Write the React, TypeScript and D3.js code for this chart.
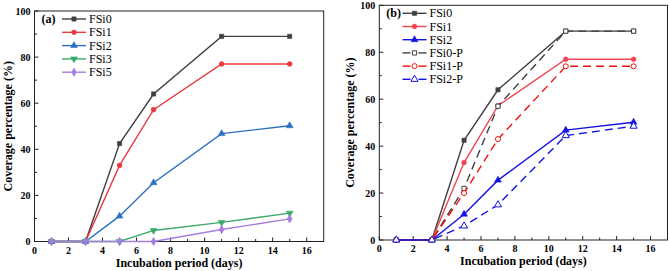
import React from "react";
import * as d3 from "d3";

// ---- data ----
const daysA = [1, 3, 5, 7, 11, 15];
const fsi0 = [0, 0, 42.5, 64, 89, 89];
const fsi1 = [0, 0, 33, 57.2, 77, 77];
const fsi2 = [0, 0, 11, 25.5, 46.8, 50.2];
const fsi3 = [0, 0, 0, 4.8, 8.3, 12.3];
const fsi5 = [0, 0, 0, 0, 5.2, 9.8];

const daysB = [1, 3.1, 5, 7, 11, 15];
const fsi0P = [0, 0, 22, 57, 89, 89];
const fsi1P = [0, 0, 20, 43, 74, 74];
const fsi2P = [0, 0, 6, 15, 44.5, 48.5];

const xTicks = [0, 2, 4, 6, 8, 10, 12, 14, 16];
const yTicks = [0, 20, 40, 60, 80, 100];

type Series = {
  name: string;
  x: number[];
  y: number[];
  color: string;
  symbol: d3.SymbolType;
  size: number;
  open?: boolean;
  dashed?: boolean;
};

const seriesA: Series[] = [
  { name: "FSi0", x: daysA, y: fsi0, color: "#404040", symbol: d3.symbolSquare, size: 18 },
  { name: "FSi1", x: daysA, y: fsi1, color: "#e8383f", symbol: d3.symbolCircle, size: 18 },
  { name: "FSi2", x: daysA, y: fsi2, color: "#2b70c2", symbol: d3.symbolTriangle, size: 20 },
  { name: "FSi3", x: daysA, y: fsi3, color: "#3aaa6a", symbol: d3.symbolTriangle, size: 20 },
  { name: "FSi5", x: daysA, y: fsi5, color: "#a67ede", symbol: d3.symbolDiamond, size: 20 },
];

const seriesB: Series[] = [
  { name: "FSi0", x: daysB, y: fsi0, color: "#404040", symbol: d3.symbolSquare, size: 18 },
  { name: "FSi1", x: daysB, y: fsi1, color: "#ef4452", symbol: d3.symbolCircle, size: 18 },
  { name: "FSi2", x: daysB, y: fsi2, color: "#1414e0", symbol: d3.symbolTriangle, size: 20 },
  { name: "FSi0-P", x: daysB, y: fsi0P, color: "#404040", symbol: d3.symbolSquare, size: 18, open: true, dashed: true },
  { name: "FSi1-P", x: daysB, y: fsi1P, color: "#ee1111", symbol: d3.symbolCircle, size: 20, open: true, dashed: true },
  { name: "FSi2-P", x: daysB, y: fsi2P, color: "#1414e0", symbol: d3.symbolTriangle, size: 22, open: true, dashed: true },
];

const FONT = "Liberation Serif, DejaVu Serif, serif";

type PanelProps = {
  series: Series[];
  left: number;
  right: number;
  top: number;
  bottom: number;
  label: string;
  legendX: number;
  legendY: number;
  legendStep: number;
  downIdx?: number[];
  yLabelX: number;
};

function Marker({ s, cx, cy, down }: { s: Series; cx: number; cy: number; down?: boolean }) {
  const path = d3.symbol().type(s.symbol).size(s.size)() as string;
  return (
    <path
      d={path}
      transform={`translate(${cx},${cy})${down ? " rotate(180)" : ""}`}
      fill={s.open ? "#fff" : s.color}
      stroke={s.color}
      strokeWidth={s.open ? 1 : 0.6}
    />
  );
}

function Panel(p: PanelProps) {
  const x = d3.scaleLinear().domain([0, 17]).range([p.left, p.right]);
  const y = d3.scaleLinear().domain([0, 100]).range([p.bottom, p.top]);
  const line = d3
    .line<[number, number]>()
    .x((d) => x(d[0]))
    .y((d) => y(d[1]));
  const minorX = d3.range(1, 17, 2);
  const minorY = d3.range(10, 100, 20);
  const cx = (p.left + p.right) / 2;
  const cy = (p.top + p.bottom) / 2;
  const tf = { fontFamily: FONT };
  return (
    <g style={tf}>
      <rect x={p.left} y={p.top} width={p.right - p.left} height={p.bottom - p.top} fill="none" stroke="#222" strokeWidth={1} />
      {xTicks.map((t) => (
        <g key={"xt" + t}>
          <line x1={x(t)} x2={x(t)} y1={p.bottom} y2={p.bottom - 4} stroke="#222" />
          <text x={x(t)} y={p.bottom + 12} textAnchor="middle" fontSize={10} fontWeight="bold" style={tf}>
            {t}
          </text>
        </g>
      ))}
      {minorX.map((t) => (
        <line key={"xm" + t} x1={x(t)} x2={x(t)} y1={p.bottom} y2={p.bottom - 2.5} stroke="#222" />
      ))}
      {yTicks.map((t) => (
        <g key={"yt" + t}>
          <line x1={p.left} x2={p.left + 4} y1={y(t)} y2={y(t)} stroke="#222" />
          <text x={p.left - 4} y={y(t) + 3.5} textAnchor="end" fontSize={10} fontWeight="bold" style={tf}>
            {t}
          </text>
        </g>
      ))}
      {minorY.map((t) => (
        <line key={"ym" + t} x1={p.left} x2={p.left + 2.5} y1={y(t)} y2={y(t)} stroke="#222" />
      ))}
      <text x={cx} y={p.bottom + 25} textAnchor="middle" fontSize={12} fontWeight="bold" style={tf}>
        Incubation period (days)
      </text>
      <text
        transform={`translate(${p.yLabelX},${cy}) rotate(-90)`}
        textAnchor="middle"
        fontSize={12}
        fontWeight="bold"
        style={tf}
      >
        Coverage percentage (%)
      </text>
      {p.series.map((s, i) => {
        const pts = s.x.map((v, k) => [v, s.y[k]] as [number, number]);
        return (
          <g key={s.name}>
            <path
              d={line(pts) as string}
              fill="none"
              stroke={s.color}
              strokeWidth={1.4}
              strokeDasharray={s.dashed ? "8,5" : undefined}
            />
            {pts.map((d, k) => (
              <Marker key={k} s={s} cx={x(d[0])} cy={y(d[1])} down={p.downIdx?.includes(i)} />
            ))}
          </g>
        );
      })}
      <text x={p.left + 7} y={p.legendY + 4} fontSize={12} fontWeight="bold" style={tf}>
        {p.label}
      </text>
      {p.series.map((s, i) => {
        const ly = p.legendY + i * p.legendStep;
        const lx = p.legendX;
        return (
          <g key={"lg" + s.name}>
            {s.dashed ? (
              <g>
                <line x1={lx} x2={lx + 8} y1={ly} y2={ly} stroke={s.color} strokeWidth={1.4} />
                <line x1={lx + 16} x2={lx + 24} y1={ly} y2={ly} stroke={s.color} strokeWidth={1.4} />
              </g>
            ) : (
              <line x1={lx} x2={lx + 24} y1={ly} y2={ly} stroke={s.color} strokeWidth={1.4} />
            )}
            <Marker s={s} cx={lx + 12} cy={ly} down={p.downIdx?.includes(i)} />
            <text x={lx + 27} y={ly + 4} fontSize={12} style={tf}>
              {s.name}
            </text>
          </g>
        );
      })}
    </g>
  );
}

export default function App() {
  return (
    <svg
      width={670}
      height={271}
      style={{ position: "absolute", left: 0, top: 0, background: "#fff" }}
    >
      <rect width={670} height={271} fill="#fff" />
      <Panel
        series={seriesA}
        left={34.5}
        right={323.7}
        top={11}
        bottom={241.5}
        label="(a)"
        legendX={62}
        legendY={19}
        legendStep={13.3}
        downIdx={[3]}
        yLabelX={12}
      />
      <Panel
        series={seriesB}
        left={379.3}
        right={667.5}
        top={5.3}
        bottom={240}
        label="(b)"
        legendX={402.5}
        legendY={13.3}
        legendStep={13.2}
        yLabelX={354}
      />
    </svg>
  );
}
